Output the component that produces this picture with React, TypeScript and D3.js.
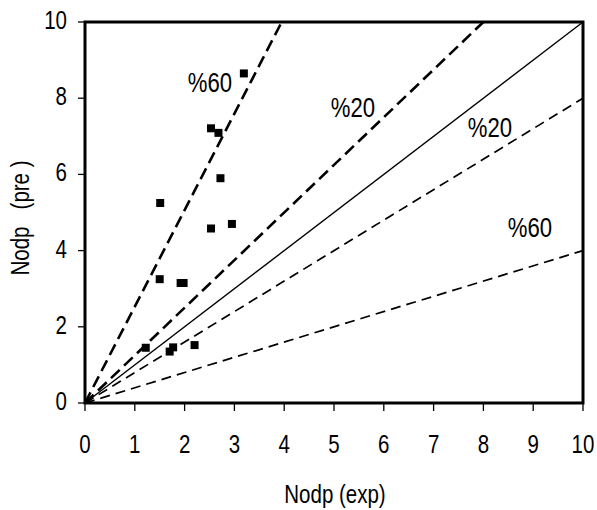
import React from 'react';
import * as d3 from 'd3';

// measured points (exp, pre)
const expValues = [3.19, 2.53, 2.68, 2.72, 1.51, 2.53, 2.95, 1.5, 1.92, 1.98, 1.22, 1.7, 1.77, 2.2];
const preValues = [8.65, 7.21, 7.09, 5.9, 5.25, 4.58, 4.7, 3.25, 3.15, 3.15, 1.45, 1.35, 1.46, 1.52];

// reference lines
const lineEqual = [[0, 0], [10, 10]];
const lineUpper20 = [[0, 0], [8, 10]];
const lineLower20 = [[0, 0], [10, 8]];
const lineUpper60 = [[0, 0], [3.95, 10]];
const lineLower60 = [[0, 0], [10, 4]];

const xTicks = [0, 1, 2, 3, 4, 5, 6, 7, 8, 9, 10];
const yTicks = [0, 2, 4, 6, 8, 10];

const FONT = "'Liberation Sans', Arial, sans-serif";

// the original uses a narrow face, so squeeze Liberation Sans horizontally
const Narrow = ({ x, y, size = 25, anchor = 'middle', rotate = 0, children }: any) => (
  <text
    transform={`translate(${x},${y}) rotate(${rotate}) scale(0.82,1)`}
    textAnchor={anchor}
    fontFamily={FONT}
    fontSize={size}
    style={{ whiteSpace: 'pre' }}
  >
    {children}
  </text>
);

const App = () => {
  const width = 597;
  const height = 510;
  const margin = { left: 85, right: 14, top: 22, bottom: 107 };

  const x = d3.scaleLinear().domain([0, 10]).range([margin.left, width - margin.right]);
  const y = d3.scaleLinear().domain([0, 10]).range([height - margin.bottom, margin.top]);

  const line = d3.line<number[]>().x(d => x(d[0])).y(d => y(d[1]));
  const square = d3.symbol().type(d3.symbolSquare).size(64)();

  return (
    <svg width={width} height={height} style={{ position: 'absolute', left: 0, top: 0 }}>
      <rect width={width} height={height} fill="white" />

      <path d={line(lineEqual) || ''} fill="none" stroke="black" strokeWidth={1.4} />
      <path d={line(lineUpper20) || ''} fill="none" stroke="black" strokeWidth={2.6} strokeDasharray="12,6" />
      <path d={line(lineUpper60) || ''} fill="none" stroke="black" strokeWidth={2.6} strokeDasharray="12,6" />
      <path d={line(lineLower20) || ''} fill="none" stroke="black" strokeWidth={1.7} strokeDasharray="10,6" />
      <path d={line(lineLower60) || ''} fill="none" stroke="black" strokeWidth={1.7} strokeDasharray="10,6" />

      {expValues.map((v, i) => (
        <path key={i} d={square || ''} transform={`translate(${x(v)},${y(preValues[i])})`} fill="black" />
      ))}

      <rect x={x(0)} y={y(10)} width={x(10) - x(0)} height={y(0) - y(10)} fill="none" stroke="black" strokeWidth={3} />

      {xTicks.map(t => (
        <g key={'x' + t}>
          <line x1={x(t)} x2={x(t)} y1={y(0)} y2={y(0) + 8} stroke="black" strokeWidth={1.3} />
          <Narrow x={x(t)} y={453}>{t}</Narrow>
        </g>
      ))}
      {yTicks.map(t => (
        <g key={'y' + t}>
          <line x1={x(0) - 7} x2={x(0)} y1={y(t)} y2={y(t)} stroke="black" strokeWidth={1.3} />
          <Narrow x={67} y={y(t) + 7} anchor="end">{t}</Narrow>
        </g>
      ))}

      <Narrow x={210} y={92} size={27}>%60</Narrow>
      <Narrow x={353} y={117} size={27}>%20</Narrow>
      <Narrow x={490} y={137} size={27}>%20</Narrow>
      <Narrow x={530} y={237} size={27}>%60</Narrow>

      <Narrow x={335} y={503} size={25}>Nodp (exp)</Narrow>
      <Narrow x={29} y={218} size={25} rotate={-90}>{'Nodp   (pre )'}</Narrow>
    </svg>
  );
};

export default App;
